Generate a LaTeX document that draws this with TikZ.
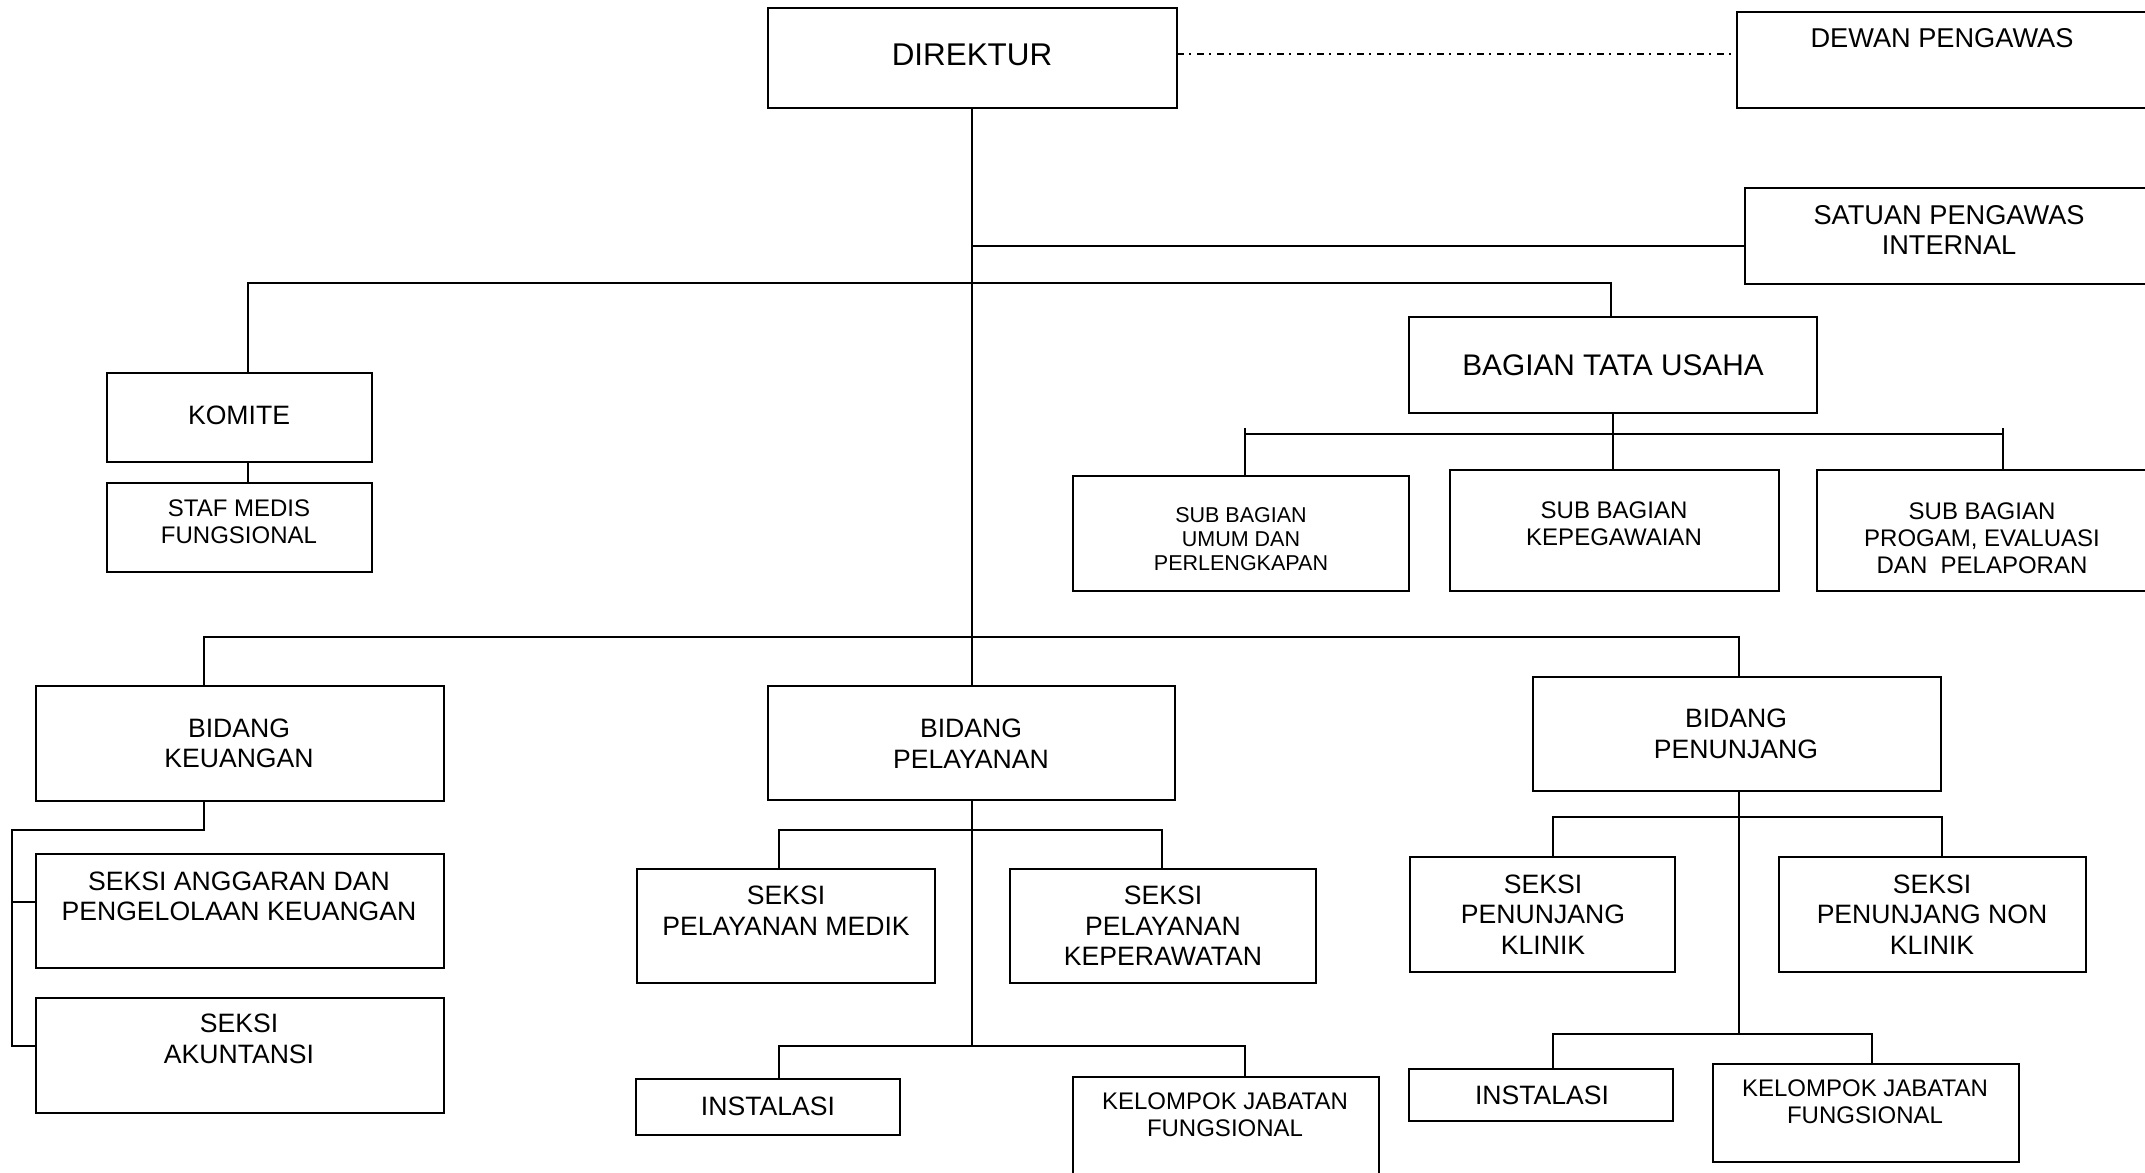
\documentclass[tikz,border=0pt]{standalone}
\usepackage{fontspec}
\setmainfont{Liberation Sans}
\tikzset{
  box/.style={draw, line width=0.9pt, inner sep=0pt, rectangle},
  conn/.style={line width=0.8pt},
  dashdotline/.style={line width=0.6pt, dash pattern=on 3.5pt off 2.5pt on 1pt off 3pt},
  tA/.style={inner sep=0pt, align=center, font=\fontsize{14.9}{17}\selectfont},
  tB/.style={inner sep=0pt, align=center, font=\fontsize{13.3}{15.3}\selectfont},
  tC/.style={inner sep=0pt, align=center, font=\fontsize{12}{13.5}\selectfont},
  tD/.style={inner sep=0pt, align=center, font=\fontsize{10.75}{12}\selectfont},
}
\newcommand\obox[5]{\node[box, minimum width={(#4-#2)*0.5pt}, minimum height={(#5-#3)*0.5pt}] (#1) at ({(#2+#4)/2},{(#3+#5)/2}) {};}
\begin{document}
\begin{tikzpicture}[x=0.5pt,y=-0.5pt]
\useasboundingbox (0,0) rectangle (2145,1172);
\clip (0,0) rectangle (2145,1172);
% boxes
\obox{dir}{768}{8}{1177}{108}
\obox{dew}{1737}{12}{2200}{108}
\obox{spi}{1745}{188}{2200}{284}
\obox{kom}{107}{373}{372}{462}
\obox{staf}{107}{483}{372}{572}
\obox{btu}{1409}{317}{1817}{413}
\obox{sbu}{1073}{476}{1409}{591}
\obox{sbk}{1450}{470}{1779}{591}
\obox{sbp}{1817}{470}{2200}{591}
\obox{bk}{36}{686}{444}{801}
\obox{ska}{36}{854}{444}{968}
\obox{sak}{36}{998}{444}{1113}
\obox{bp}{768}{686}{1175}{800}
\obox{spm}{637}{869}{935}{983}
\obox{spk}{1010}{869}{1316}{983}
\obox{insa}{636}{1079}{900}{1135}
\obox{kjfa}{1073}{1077}{1379}{1220}
\obox{bpj}{1533}{677}{1941}{791}
\obox{spkl}{1410}{857}{1675}{972}
\obox{spnk}{1779}{857}{2086}{972}
\obox{insb}{1409}{1069}{1673}{1121}
\obox{kjfb}{1713}{1064}{2019}{1162}
% texts
\node[tA, font=\fontsize{15.7}{18}\selectfont] (dirT) at (972,55) {DIREKTUR};
\node[tB, font=\fontsize{13.6}{15.3}\selectfont] (dewT) at (1942,38) {DEWAN PENGAWAS};
\node[tB, font=\fontsize{13.6}{15.3}\selectfont] (spiT) at (1949,230) {SATUAN PENGAWAS\\INTERNAL};
\node[tB] (komT) at (239,415) {KOMITE};
\node[tC] (stafT) at (239,521.5) {STAF MEDIS\\FUNGSIONAL};
\node[tA] (btuT) at (1613,365) {BAGIAN TATA USAHA};
\node[tD] (sbuT) at (1241,539) {SUB BAGIAN\\UMUM DAN\\PERLENGKAPAN};
\node[tC] (sbkT) at (1614,524) {SUB BAGIAN\\KEPEGAWAIAN};
\node[tC] (sbpT) at (1982,538.5) {SUB BAGIAN\\PROGAM, EVALUASI\\DAN\ \ PELAPORAN};
\node[tB] (bkT) at (239,743.5) {BIDANG\\KEUANGAN};
\node[tB] (skaT) at (239,896.5) {SEKSI ANGGARAN DAN\\PENGELOLAAN KEUANGAN};
\node[tB] (sakT) at (239,1039) {SEKSI\\AKUNTANSI};
\node[tB] (bpT) at (971,743.5) {BIDANG\\PELAYANAN};
\node[tB] (spmT) at (786,911) {SEKSI\\PELAYANAN MEDIK};
\node[tB] (spkT) at (1163,926) {SEKSI\\PELAYANAN\\KEPERAWATAN};
\node[tB] (insaT) at (768,1106) {INSTALASI};
\node[tC] (kjfaT) at (1225,1115) {KELOMPOK JABATAN\\FUNGSIONAL};
\node[tB] (bpjT) at (1736,734) {BIDANG\\PENUNJANG};
\node[tB] (spklT) at (1543,914.5) {SEKSI\\PENUNJANG\\KLINIK};
\node[tB] (spnkT) at (1932,914.5) {SEKSI\\PENUNJANG NON\\KLINIK};
\node[tB] (insbT) at (1542,1095) {INSTALASI};
\node[tC] (kjfbT) at (1865,1102) {KELOMPOK JABATAN\\FUNGSIONAL};
% junction coordinates
\coordinate (dd) at (1177,54);
\coordinate (tr) at (972,108);
\coordinate (jspi) at (972,246);
\coordinate (h1L) at (248,283);
\coordinate (h1R) at (1611,283);
\coordinate (b2L) at (1245,434);
\coordinate (b2R) at (2003,434);
\coordinate (b2Lt) at (1245,428);
\coordinate (b2Rt) at (2003,428);
\coordinate (h3L) at (204,637);
\coordinate (h3R) at (1739,637);
\coordinate (kA) at (204,830);
\coordinate (kB) at (12,830);
\coordinate (kC) at (12,902);
\coordinate (kD) at (12,1046);
\coordinate (pA) at (779,830);
\coordinate (pB) at (1162,830);
\coordinate (pC) at (779,1046);
\coordinate (pD) at (1245,1046);
\coordinate (nA) at (1553,817);
\coordinate (nB) at (1942,817);
\coordinate (nC) at (1553,1034);
\coordinate (nD) at (1872,1034);
% connectors
\draw[dashdotline] (dd) -- (dd -| dew.west);
\draw[conn] (tr) -- (tr |- bp.north);
\draw[conn] (jspi) -- (jspi -| spi.west);
\draw[conn] (kom.north -| h1L) -- (h1L) -- (h1R) -- (h1R |- btu.north);
\draw[conn] (kom.south -| h1L) -- (staf.north -| h1L);
\draw[conn] (btu.south) -- (btu.south |- sbk.north);
\draw[conn] (b2L) -- (b2R);
\draw[conn] (b2Lt) -- (b2Lt |- sbu.north);
\draw[conn] (b2Rt) -- (b2Rt |- sbp.north);
\draw[conn] (bk.north -| h3L) -- (h3L) -- (h3R) -- (h3R |- bpj.north);
\draw[conn] (bk.south -| kA) -- (kA) -- (kB) -- (kD) -- (kD -| sak.west);
\draw[conn] (kC) -- (kC -| ska.west);
\draw[conn] (bp.south -| tr) -- (tr |- pC);
\draw[conn] (spm.north -| pA) -- (pA) -- (pB) -- (spk.north -| pB);
\draw[conn] (insa.north -| pC) -- (pC) -- (pD) -- (kjfa.north -| pD);
\draw[conn] (bpj.south -| h3R) -- (h3R |- nC);
\draw[conn] (spkl.north -| nA) -- (nA) -- (nB) -- (spnk.north -| nB);
\draw[conn] (insb.north -| nC) -- (nC) -- (nD) -- (kjfb.north -| nD);
\end{tikzpicture}
\end{document}
